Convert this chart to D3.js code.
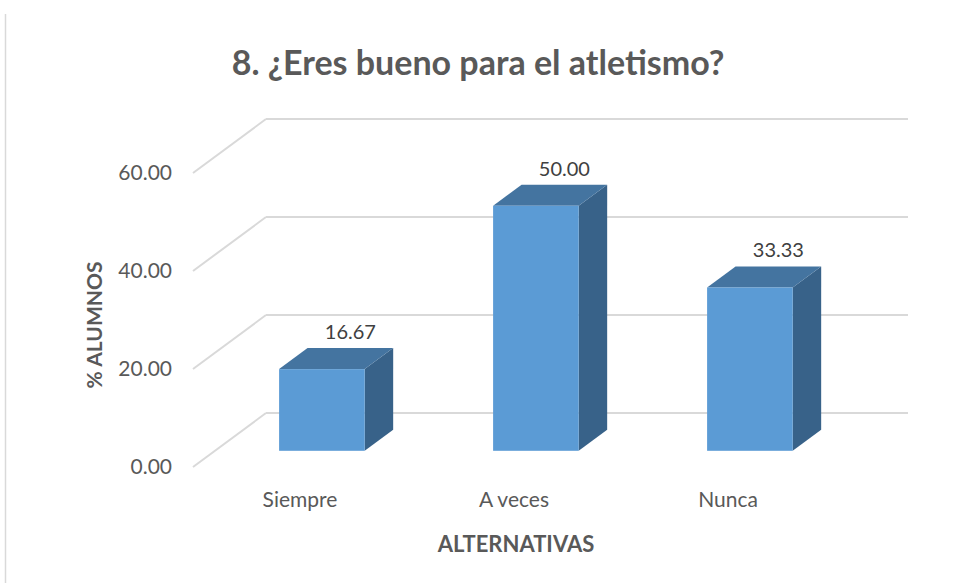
<!DOCTYPE html>
<html>
<head>
<meta charset="utf-8">
<script src="https://d3js.org/d3.v7.min.js"></script>
<style>
  body { margin: 0; background: #fff; }
  text { font-family: Lato, "Open Sans", sans-serif; }
</style>
</head>
<body>
<svg width="958" height="583"></svg>
<script>
// DATA
var categories = ["Siempre", "A veces", "Nunca"];
var values = [16.67, 50.00, 33.33];
var yTicks = [0, 20, 40, 60];

var svg = d3.select("svg"),
    width = +svg.attr("width"),
    height = +svg.attr("height");

// fake 3d: full floor depth goes up/right by this much
var depthX = 73, depthY = -54;
// bars sit between these depth fractions
var barFront = 0.3, barBack = 0.69;

var x = d3.scaleBand()
    .domain(categories)
    .range([193, 835])
    .paddingInner(0.6)
    .paddingOuter(0.3);

var y = d3.scaleLinear()
    .domain([0, 60])
    .range([467, 173]);

// chart border (only left edge shows)
svg.append("line")
    .attr("x1", 5.5).attr("x2", 5.5)
    .attr("y1", 14).attr("y2", height)
    .style("stroke", "#d9d9d9")
    .style("stroke-width", 1.5);

// gridlines: back wall + floor diagonal
var grid = svg.append("g");
grid.selectAll("line.back")
  .data(yTicks)
  .enter().append("line")
    .attr("class", "back")
    .attr("x1", 193 + depthX).attr("x2", 835 + depthX)
    .attr("y1", function(d){ return y(d) + depthY })
    .attr("y2", function(d){ return y(d) + depthY })
    .style("stroke", "#d9d9d9")
    .style("stroke-width", 2);
grid.selectAll("line.side")
  .data(yTicks)
  .enter().append("line")
    .attr("class", "side")
    .attr("x1", 193).attr("x2", 193 + depthX)
    .attr("y1", function(d){ return y(d) })
    .attr("y2", function(d){ return y(d) + depthY })
    .style("stroke", "#d9d9d9")
    .style("stroke-width", 2);

// bars
var data = categories.map(function(c, i){ return {cat: c, val: values[i]} });
var bw = x.bandwidth();
var fx = depthX * barFront, fy = depthY * barFront;
var bx = depthX * barBack, by = depthY * barBack;
var ddx = bx - fx, ddy = by - fy;

var bars = svg.append("g")
  .selectAll("g")
  .data(data)
  .enter().append("g");

// right side
bars.append("path")
    .attr("d", function(d){
      var x0 = x(d.cat) + fx + bw, yt = y(d.val) + fy, yb = y(0) + fy;
      return "M" + x0 + "," + yt + "L" + (x0 + ddx) + "," + (yt + ddy) +
             "L" + (x0 + ddx) + "," + (yb + ddy) + "L" + x0 + "," + yb + "Z";
    })
    .style("fill", "#386289");

// top
bars.append("path")
    .attr("d", function(d){
      var x0 = x(d.cat) + fx, yt = y(d.val) + fy;
      return "M" + x0 + "," + yt + "L" + (x0 + ddx) + "," + (yt + ddy) +
             "L" + (x0 + ddx + bw) + "," + (yt + ddy) + "L" + (x0 + bw) + "," + yt + "Z";
    })
    .style("fill", "#4474a0");

// front
bars.append("rect")
    .attr("x", function(d){ return x(d.cat) + fx })
    .attr("y", function(d){ return y(d.val) + fy })
    .attr("width", bw)
    .attr("height", function(d){ return y(0) - y(d.val) })
    .style("fill", "#5b9bd5");

// value labels
bars.append("text")
    .attr("x", function(d){ return x(d.cat) + bx + bw / 2 })
    .attr("y", function(d){ return y(d.val) + by - 9 })
    .attr("text-anchor", "middle")
    .style("font-size", "20px")
    .style("fill", "#404040")
    .text(function(d){ return d3.format(".2f")(d.val) });

// y axis
var yAxis = svg.append("g")
    .attr("transform", "translate(180,0)")
    .call(d3.axisLeft(y).tickValues(yTicks).tickFormat(d3.format(".2f")).tickSize(0).tickPadding(8));
yAxis.select(".domain").remove();
yAxis.selectAll("text")
    .style("font-family", "Lato, sans-serif")
    .style("font-size", "21px")
    .style("fill", "#595959");

// x axis
var xAxis = svg.append("g")
    .attr("transform", "translate(0,484)")
    .call(d3.axisBottom(x).tickSize(0).tickPadding(8));
xAxis.select(".domain").remove();
xAxis.selectAll("text")
    .style("font-family", "Lato, sans-serif")
    .style("font-size", "21px")
    .style("fill", "#595959");

// titles
svg.append("text")
    .attr("x", 478).attr("y", 75)
    .attr("text-anchor", "middle")
    .style("font-size", "34px")
    .style("font-weight", "bold")
    .style("fill", "#595959")
    .text("8. ¿Eres bueno para el atletismo?");

svg.append("text")
    .attr("x", 516).attr("y", 552)
    .attr("text-anchor", "middle")
    .style("font-size", "22px")
    .style("font-weight", "bold")
    .style("fill", "#595959")
    .text("ALTERNATIVAS");

svg.append("text")
    .attr("transform", "translate(102,325) rotate(-90)")
    .attr("text-anchor", "middle")
    .style("font-size", "21px")
    .style("font-weight", "bold")
    .style("fill", "#595959")
    .text("% ALUMNOS");
</script>
</body>
</html>
